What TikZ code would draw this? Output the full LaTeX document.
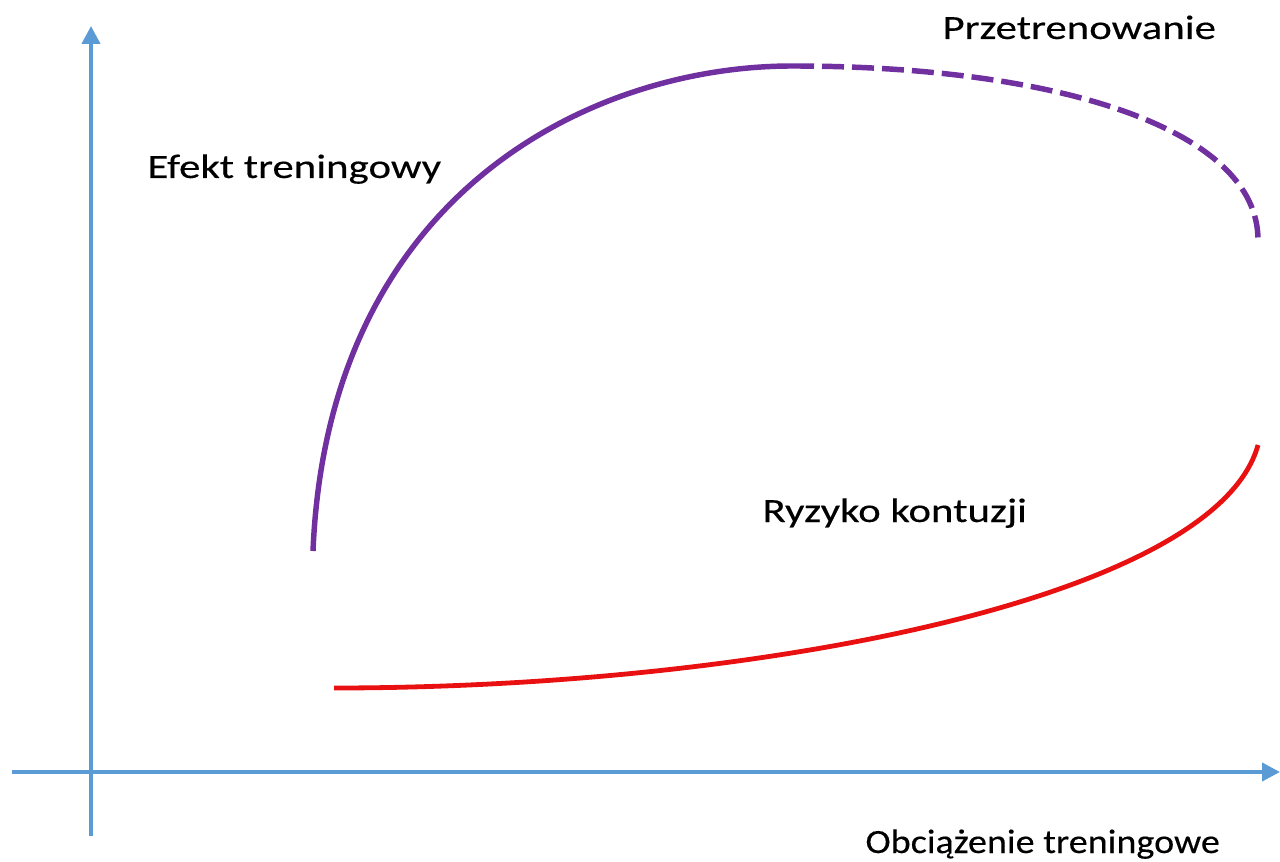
\documentclass[tikz,border=0pt]{standalone}
\usepackage{fontspec}
\setmainfont{Carlito}[FakeStretch=1.26,FakeBold=0.3]
\newfontfamily\narrowfont{Carlito}[FakeStretch=1.12,FakeBold=0.3]
\usetikzlibrary{arrows.meta}

\definecolor{axisblue}{RGB}{91,155,213}
\definecolor{effectpurple}{RGB}{112,48,160}
\definecolor{riskred}{RGB}{232,16,16}

\tikzset{every picture/.style={line width=0.75pt}}
\tikzset{
  axis/.style={draw=axisblue, line width=3pt, -{Triangle[length=13.5pt,width=13.5pt]}},
  effectline/.style={color=effectpurple, line width=4.1pt},
  riskline/.style={color=riskred, line width=3.6pt},
  label/.style={anchor=base west, inner sep=0pt, font=\fontsize{25.5}{30}\selectfont},
}

\begin{document}
\begin{tikzpicture}[x=0.75pt,y=0.75pt,yscale=-1,xscale=1]
\useasboundingbox (0,0) rectangle (1280,862);

% axes
\coordinate (ybot) at (91,836);
\coordinate (ytop) at (91,26);
\coordinate (xleft) at (12,772);
\coordinate (xright) at (1280,772);
\draw [axis] (ybot) -- (ytop);
\draw [axis] (xleft) -- (xright);

% training effect curve
\coordinate (effstart) at (313,551);
\coordinate (effpeak) at (792,66);
\coordinate (effend) at (1258,240);
\draw [effectline] (effstart) .. controls (328,190) and (595,66) .. (effpeak);
\draw [effectline, dash pattern=on 16.5pt off 6pt] (effpeak) .. controls (1060,66) and (1258,130) .. (effend);

% injury risk curve
\coordinate (riskstart) at (334,688);
\coordinate (riskend) at (1258,445);
\draw [riskline] (riskstart) .. controls (750,688) and (1215,600) .. (riskend);

% Text Node
\node [label] (overtrain) at (942,39) {Przetrenowanie};
% Text Node
\node [label] (effect) at (147,178) {Efekt treningowy};
% Text Node
\node [label] (risk) at (762,522) {Ryzyko kontuzji};
% Text Node
\node [label, font=\fontsize{25.5}{30}\narrowfont] (load) at (865,853) {Obciążenie treningowe};

\end{tikzpicture}
\end{document}
